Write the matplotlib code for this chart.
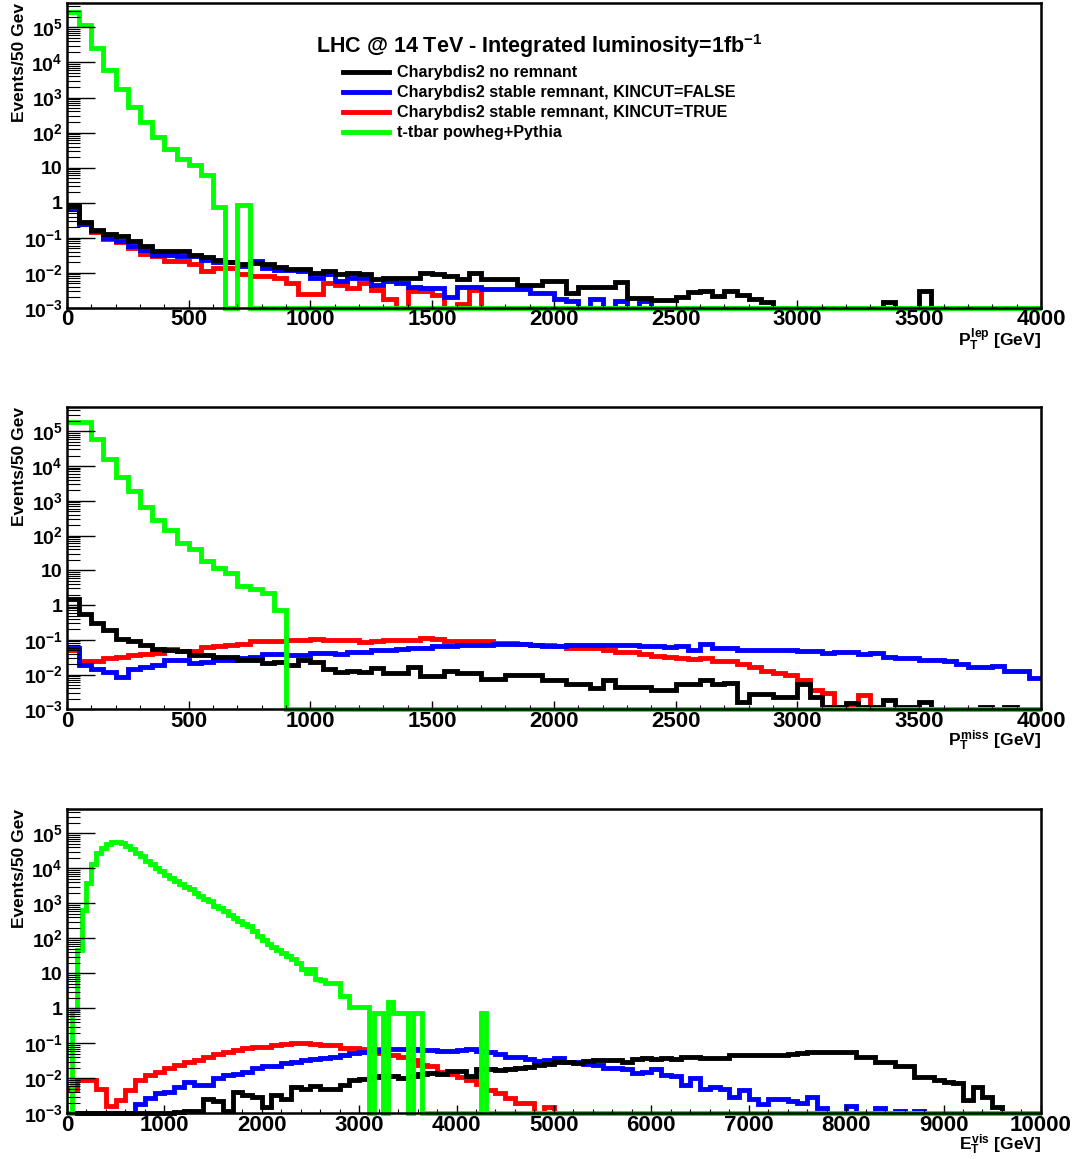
import numpy as np
import matplotlib
matplotlib.use("Agg")
import matplotlib.pyplot as plt
from matplotlib.ticker import LogLocator, MultipleLocator, NullFormatter
from matplotlib.lines import Line2D

plt.rcParams['font.family'] = 'Liberation Sans'
plt.rcParams['font.weight'] = 'bold'
plt.rcParams['mathtext.fontset'] = 'custom'
plt.rcParams['mathtext.rm'] = 'Liberation Sans:bold'
plt.rcParams['mathtext.it'] = 'Liberation Sans:bold'
plt.rcParams['mathtext.bf'] = 'Liberation Sans:bold'

# ---- series labels / colours
labels = ["Charybdis2 no remnant",
          "Charybdis2 stable remnant, KINCUT=FALSE",
          "Charybdis2 stable remnant, KINCUT=TRUE",
          "t-tbar powheg+Pythia"]
colors = ["black", "#0000ff", "#ff0000", "#00ff00"]

# ---- panel 1 : lepton pT, 50 GeV bins, 0-4000
ptlep_black = [0.8, 0.29, 0.17, 0.125, 0.11, 0.08, 0.058, 0.043, 0.041, 0.041,
               0.032, 0.028, 0.024, 0.021, 0.018, 0.019, 0.018, 0.015, 0.0125, 0.013,
               0.01, 0.011, 0.009, 0.01, 0.009, 0.0066, 0.0073, 0.0073, 0.0073, 0.0102,
               0.009, 0.008, 0.0066, 0.01, 0.0066, 0.0066, 0.0066, 0.0045, 0.0045, 0.006,
               0.006, 0.0026, 0.0039, 0.0039, 0.0039, 0.0055, 0.0019, 0.0019, 0.0017, 0.0017,
               0.0021, 0.0029, 0.003, 0.0022, 0.003, 0.0024, 0.0018, 0.0015, 0, 0,
               0, 0, 0, 0, 0, 0, 0, 0.0015, 0, 0,
               0.003, 0, 0, 0, 0, 0, 0, 0, 0, 0]
ptlep_blue = [0.7, 0.24, 0.16, 0.1, 0.08, 0.058, 0.046, 0.033, 0.033, 0.03,
              0.03, 0.024, 0.02, 0.02, 0.016, 0.022, 0.014, 0.012, 0.012, 0.011,
              0.007, 0.009, 0.006, 0.0071, 0.0071, 0.0045, 0.006, 0.005, 0.004, 0.0036,
              0.0036, 0.0021, 0.004, 0.004, 0.0034, 0.0034, 0.0034, 0.0034, 0.0026, 0.0026,
              0.0018, 0.0016, 0, 0.0018, 0, 0.0016, 0, 0.0016] + [0] * 32
ptlep_red = [0.7, 0.24, 0.15, 0.09, 0.075, 0.05, 0.035, 0.03, 0.022, 0.022,
             0.018, 0.011, 0.014, 0.014, 0.009, 0.008, 0.008, 0.007, 0.005, 0.0025,
             0.0025, 0.005, 0.0045, 0.0036, 0.005, 0.0033, 0.0018, 0, 0.003, 0.003,
             0.0023, 0, 0.0013, 0.0033] + [0] * 46
ptlep_green = [2.7e5, 1.2e5, 2.6e4, 6000, 1700, 540, 200, 74, 33, 18,
               12, 6, 0.76, 0, 0.85] + [0] * 65

# ---- panel 2 : missing pT, 50 GeV bins, 0-4000
ptmiss_black = [1.5, 0.56, 0.3, 0.19, 0.107, 0.093, 0.07, 0.056, 0.052, 0.048,
                0.036, 0.036, 0.032, 0.031, 0.027, 0.026, 0.021, 0.023, 0.019, 0.026,
                0.023, 0.014, 0.012, 0.013, 0.012, 0.0158, 0.0108, 0.0108, 0.0165, 0.0093,
                0.0093, 0.0128, 0.0108, 0.0108, 0.0073, 0.0073, 0.0096, 0.0096, 0.0096, 0.0069,
                0.0069, 0.0055, 0.0055, 0.004, 0.0069, 0.0045, 0.0045, 0.0045, 0.0037, 0.0037,
                0.0055, 0.0055, 0.0069, 0.0055, 0.0058, 0.0016, 0.0027, 0.0027, 0.0022, 0.0022,
                0.0052, 0.0022, 0.0012, 0.0012, 0.0015, 0.0012, 0.0012, 0.0019, 0.0012, 0.0012,
                0.0016, 0, 0, 0, 0, 0.0012, 0, 0.0012, 0, 0]
ptmiss_blue = [0.06, 0.019, 0.014, 0.012, 0.0087, 0.014, 0.017, 0.019, 0.026, 0.026,
               0.021, 0.023, 0.026, 0.026, 0.029, 0.031, 0.039, 0.039, 0.036, 0.036,
               0.042, 0.042, 0.04, 0.045, 0.045, 0.05, 0.052, 0.056, 0.06, 0.06,
               0.065, 0.068, 0.07, 0.07, 0.072, 0.075, 0.077, 0.077, 0.07, 0.065,
               0.068, 0.073, 0.073, 0.072, 0.07, 0.07, 0.07, 0.068, 0.066, 0.062,
               0.065, 0.05, 0.077, 0.06, 0.06, 0.052, 0.052, 0.052, 0.05, 0.05,
               0.048, 0.048, 0.043, 0.046, 0.046, 0.039, 0.043, 0.032, 0.029, 0.029,
               0.026, 0.026, 0.025, 0.02, 0.017, 0.017, 0.018, 0.013, 0.013, 0.008]
ptmiss_red = [0.05, 0.025, 0.025, 0.029, 0.031, 0.036, 0.04, 0.042, 0.056, 0.048,
              0.048, 0.062, 0.065, 0.07, 0.078, 0.093, 0.093, 0.09, 0.097, 0.1,
              0.107, 0.1, 0.097, 0.1, 0.087, 0.09, 0.098, 0.098, 0.098, 0.11,
              0.105, 0.094, 0.094, 0.094, 0.09, 0.081, 0.081, 0.075, 0.07, 0.07,
              0.065, 0.06, 0.06, 0.058, 0.05, 0.045, 0.045, 0.04, 0.035, 0.032,
              0.03, 0.028, 0.029, 0.024, 0.024, 0.02, 0.017, 0.0125, 0.011, 0.0095,
              0.0069, 0.0035, 0.0029, 0.0011, 0.0011, 0.0026] + [0] * 14
ptmiss_green = [1.9e5, 1.9e5, 6.2e4, 1.65e4, 4800, 1900, 670, 275, 143, 63,
                41, 19, 12, 8.2, 3.6, 2.9, 2.2, 0.7] + [0] * 62

# ---- panel 3 : visible ET, 100 GeV bins (charybdis), 50 GeV bins (ttbar), 0-10000
etvis_black = [0] * 11 + [
    0.0011, 0.0012, 0.0012, 0.0025, 0.0022, 0.0012, 0.004, 0.0033, 0.003,
    0.0015, 0.0034, 0.0025, 0.0058, 0.005, 0.006, 0.005, 0.005, 0.0065, 0.009,
    0.0095, 0.011, 0.012, 0.012, 0.01, 0.012, 0.013, 0.0145, 0.013, 0.016,
    0.016, 0.012, 0.018, 0.018, 0.017, 0.019, 0.02, 0.021, 0.024, 0.026,
    0.03, 0.029, 0.028, 0.031, 0.033, 0.033, 0.034, 0.03, 0.036, 0.038,
    0.036, 0.037, 0.036, 0.04, 0.042, 0.038, 0.038, 0.038, 0.045, 0.045,
    0.047, 0.047, 0.047, 0.047, 0.05, 0.052, 0.058, 0.058, 0.055, 0.055,
    0.058, 0.042, 0.042, 0.03, 0.03, 0.023, 0.023, 0.011, 0.011, 0.009,
    0.008, 0.0075, 0.0024, 0.0058, 0.003, 0.0015, 0, 0, 0, 0]
etvis_blue = [0] * 7 + [
    0.0019, 0.0027, 0.0037, 0.0042, 0.0055, 0.008, 0.0065, 0.0065, 0.01,
    0.0125, 0.013, 0.0156, 0.0195, 0.022, 0.022, 0.027, 0.03, 0.034, 0.036,
    0.038, 0.042, 0.046, 0.052, 0.056, 0.062, 0.064, 0.068, 0.068, 0.068,
    0.066, 0.064, 0.062, 0.062, 0.066, 0.068, 0.06, 0.055, 0.05, 0.042,
    0.04, 0.035, 0.032, 0.034, 0.038, 0.03, 0.03, 0.026, 0.024, 0.02,
    0.02, 0.018, 0.014, 0.015, 0.018, 0.0125, 0.012, 0.0065, 0.01, 0.005,
    0.0055, 0.005, 0.003, 0.0045, 0.0025, 0.0019, 0.0025, 0.0025, 0.0022, 0.002,
    0.003, 0.0014, 0, 0, 0.0016, 0, 0, 0.0014, 0, 0.0012,
    0, 0.0012] + [0] * 12
etvis_red = [0.005, 0.009, 0.009, 0.005, 0.0016, 0.0024, 0.0047, 0.009, 0.0125, 0.0156,
             0.0195, 0.024, 0.03, 0.034, 0.042, 0.05, 0.058, 0.066, 0.073, 0.078,
             0.081, 0.09, 0.097, 0.1, 0.1, 0.098, 0.091, 0.088, 0.075, 0.073,
             0.07, 0.068, 0.052, 0.048, 0.04, 0.034, 0.024, 0.022, 0.0155, 0.013,
             0.011, 0.009, 0.007, 0.0045, 0.0037, 0.0027, 0.002, 0.002, 0, 0.0015] + [0] * 50
etvis_green = [0, 0.9, 48, 660, 3900, 1.3e4, 2.8e4, 3.9e4, 4.9e4, 5.7e4,
               5.7e4, 5.2e4, 4.4e4, 3.6e4, 2.8e4, 2.2e4, 1.6e4, 1.3e4, 1.05e4, 8400,
               6700, 5400, 4300, 3500, 2950, 2500, 2000, 1670, 1340, 1150,
               870, 750, 600, 480, 380, 310, 265, 220, 160, 115,
               92, 70, 57, 48, 38, 31, 25, 20, 13, 10,
               13, 7, 6.6, 5.3, 5.3, 5.3, 2.2, 2.2, 1.1, 1.1,
               1.1, 1.1, 0, 0.75, 0.75, 0, 1.5, 0.75, 0.75, 0.75,
               0, 0.75, 0.75] + [0] * 12 + [0.75] + [0] * 114

edges_pt = np.arange(0, 4001, 50)
edges_et50 = np.arange(0, 10001, 50)
edges_et100 = np.arange(0, 10001, 100)

YMIN, YMAX = 1e-3, 5e5
ytick_vals = [1e-3, 1e-2, 1e-1, 1, 10, 1e2, 1e3, 1e4, 1e5]
ytick_labels = [r'$10^{-3}$', r'$10^{-2}$', r'$10^{-1}$', '1', '10',
                r'$10^{2}$', r'$10^{3}$', r'$10^{4}$', r'$10^{5}$']

fig = plt.figure(figsize=(10.73, 11.59), dpi=100)
ax1 = fig.add_axes([0.0624, 0.7343, 0.9077, 0.2632])
ax2 = fig.add_axes([0.0624, 0.3880, 0.9077, 0.2608])
ax3 = fig.add_axes([0.0624, 0.0394, 0.9077, 0.2626])


def draw_hist(ax, vals, edges, c):
    v = np.clip(np.asarray(vals, dtype=float), YMIN, None)
    ax.stairs(v, edges, baseline=None, color=c, lw=3.5, clip_on=False)


def style_axis(ax, xmax, xmajor, xminor, xlabel):
    ax.set_yscale('log')
    ax.set_ylim(YMIN, YMAX)
    ax.set_xlim(0, xmax)
    ax.set_yticks(ytick_vals, ytick_labels)
    ax.yaxis.set_minor_locator(LogLocator(base=10, subs=np.arange(2, 10), numticks=50))
    ax.yaxis.set_minor_formatter(NullFormatter())
    ax.xaxis.set_major_locator(MultipleLocator(xmajor))
    ax.xaxis.set_minor_locator(MultipleLocator(xminor))
    ax.tick_params(axis='y', which='major', direction='in', length=20, width=1.0,
                   labelsize=14, pad=3, right=False)
    ax.tick_params(axis='y', which='minor', direction='in', length=9, width=0.8, right=False)
    ax.tick_params(axis='x', which='major', direction='in', length=6, width=1.0,
                   labelsize=16, pad=1, top=False)
    ax.tick_params(axis='x', which='minor', direction='in', length=3, width=0.8, top=False)
    for s in ax.spines.values():
        s.set_linewidth(1.8)
    ax.set_ylabel('Events/50 Gev', fontsize=12.5, fontweight='bold', loc='top')
    ax.yaxis.set_label_coords(-0.041, 1.0)
    ax.set_xlabel(xlabel, fontsize=12.5, fontweight='bold', loc='right', labelpad=-2.5)


# draw order: red, blue, black, green on top
for ax, series, edges_list in [
        (ax1, [ptlep_red, ptlep_blue, ptlep_black, ptlep_green], [edges_pt] * 4),
        (ax2, [ptmiss_red, ptmiss_blue, ptmiss_black, ptmiss_green], [edges_pt] * 4),
        (ax3, [etvis_red, etvis_blue, etvis_black, etvis_green],
         [edges_et100, edges_et100, edges_et100, edges_et50])]:
    for vals, ed, c in zip(series, edges_list, [colors[2], colors[1], colors[0], colors[3]]):
        draw_hist(ax, vals, ed, c)

style_axis(ax1, 4000, 500, 100, r'$P_{T}^{lep}$ [GeV]')
style_axis(ax2, 4000, 500, 100, r'$P_{T}^{miss}$ [GeV]')
style_axis(ax3, 10000, 1000, 200, r'$E_{T}^{vis}$ [GeV]')

handles = [Line2D([], [], color=c, lw=3.5) for c in colors]
leg = ax1.legend(handles, labels, loc='upper center', bbox_to_anchor=(0.4846, 0.93),
                 frameon=False, prop={'weight': 'bold', 'size': 11.6},
                 handlelength=2.9, handletextpad=0.45, labelspacing=0.31,
                 borderpad=0, title=r'LHC @ 14 TeV - Integrated luminosity=1fb$^{-1}$',
                 title_fontproperties={'weight': 'bold', 'size': 15.5})

fig.savefig('out.png', dpi=100, facecolor='white')
